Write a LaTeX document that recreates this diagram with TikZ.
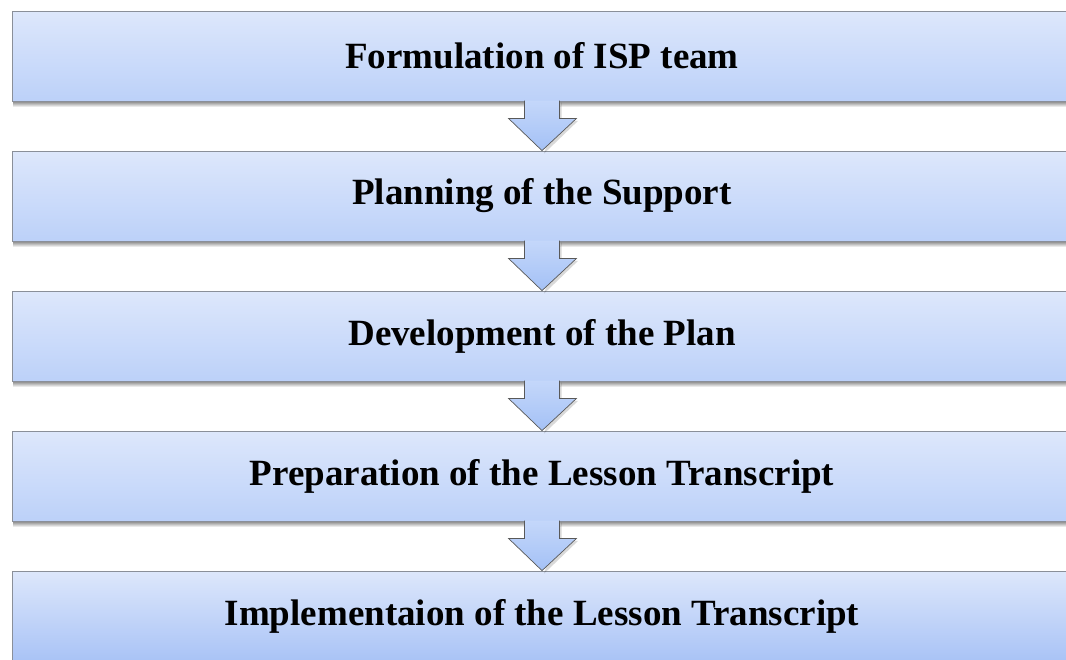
\documentclass[tikz,border=0pt]{standalone}
\usepackage{fontspec}
\setmainfont{Liberation Serif}
\usetikzlibrary{calc}
\definecolor{boxtop}{HTML}{DDE7FB}
\definecolor{boxbot}{HTML}{BCD1F9}
\definecolor{boxbotfive}{HTML}{A9C3F6}
\definecolor{arrtop}{HTML}{C4D7FA}
\definecolor{arrbot}{HTML}{A4C1F6}
\definecolor{edge}{HTML}{8A8F99}
\begin{document}
\begin{tikzpicture}[x=1pt,y=-1pt,
  stepbox/.style={rectangle, draw=edge, line width=0.8pt, top color=boxtop, bottom color=boxbot,
    minimum width=1060pt, minimum height=90pt, inner sep=0pt,
    font=\fontsize{37}{44}\selectfont\bfseries},
  flowarrow/.style={draw=black!65, line width=0.7pt, top color=arrtop, bottom color=arrbot, line join=miter},
  arrowshadow/.style={fill=black, opacity=0.15, draw=none},
  shadowband/.style={top color=black!45, bottom color=white, draw=none}]
\useasboundingbox (0,0) rectangle (1066,659);
% soft shadows under the boxes
\foreach \i in {0,...,3} {
  \shade[shadowband] (13,{101.5+140*\i}) rectangle (1072,{107+140*\i});
}
% boxes
\node[stepbox] (b1) at (542,56) {Formulation of ISP team};
\node[stepbox] (b2) at (542,196) {Planning of the Support};
\node[stepbox] (b3) at (542,336) {Development of the Plan};
\node[stepbox] (b4) at (542,476) {Preparation of the Lesson Transcript};
\node[stepbox, bottom color=boxbotfive] (b5) at (542,616) {Implementaion of the Lesson Transcript};
% arrows
\foreach \a/\b in {b1/b2,b2/b3,b3/b4,b4/b5} {
  \path[arrowshadow] ($(\a.south)+(19.5,1)$) -- ($(\a.south)+(19.5,19.5)$) -- ($(\a.south)+(36,19.5)$)
     -- ($(\b.north)+(2,3)$) -- cycle;
  \path[flowarrow] ($(\a.south)+(-17.5,-0.8)$) -- ($(\a.south)+(-17.5,17)$) -- ($(\a.south)+(-33.5,17)$)
     -- (\b.north) -- ($(\a.south)+(34.5,17)$) -- ($(\a.south)+(17.5,17)$) -- ($(\a.south)+(17.5,-0.8)$);
}
\end{tikzpicture}
\end{document}
